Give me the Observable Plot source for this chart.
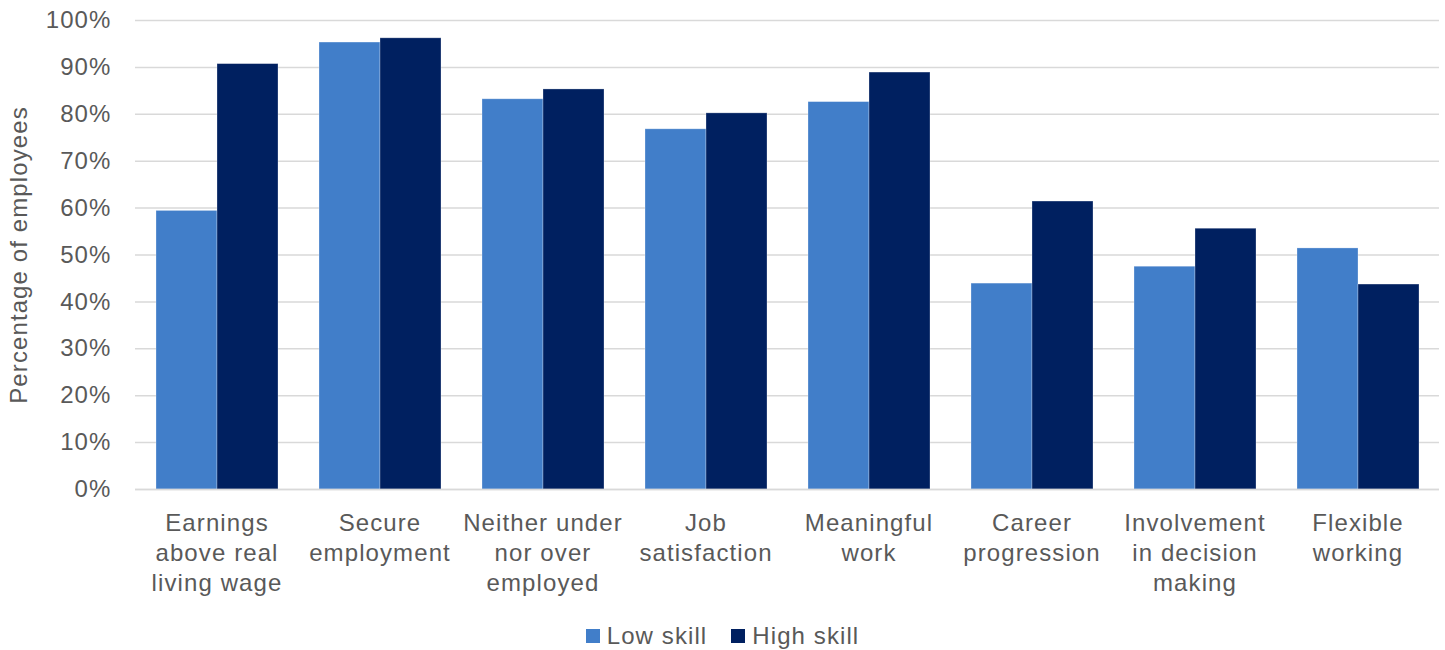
<!DOCTYPE html>
<html>
<head>
<meta charset="utf-8">
<script src="https://cdn.jsdelivr.net/npm/d3@7"></script>
<script src="https://cdn.jsdelivr.net/npm/@observablehq/plot@0.6"></script>
<style>
  html, body { margin: 0; padding: 0; background: #fff; overflow: hidden; }
  #chart { width: 1445px; }
  .legend { display: flex; justify-content: center; align-items: center; gap: 0; height: 40px;
    font-family: "Liberation Sans", Arial, sans-serif; font-size: 24px; letter-spacing: 1.1px; color: #595959; margin-top: 2px; }
  .legend span.sw { display: inline-block; width: 14px; height: 14px; margin-right: 7px; }
  .legend .item { display: flex; align-items: center; margin: 0 12px; }
</style>
</head>
<body>
<div id="chart"></div>
<script>
const categories = [
  "Earnings\nabove real\nliving wage",
  "Secure\nemployment",
  "Neither under\nnor over\nemployed",
  "Job\nsatisfaction",
  "Meaningful\nwork",
  "Career\nprogression",
  "Involvement\nin decision\nmaking",
  "Flexible\nworking"
];
const seriesNames = ["Low skill", "High skill"];
const lowSkill  = [59.4, 95.3, 83.2, 76.8, 82.6, 43.9, 47.5, 51.4];
const highSkill = [90.7, 96.2, 85.3, 80.2, 88.9, 61.4, 55.6, 43.7];
const colors = ["#417EC9", "#002060"];
const yTicks = [0, 10, 20, 30, 40, 50, 60, 70, 80, 90, 100];

const data = [];
categories.forEach((c, i) => {
  data.push({category: c, series: seriesNames[0], value: lowSkill[i]});
  data.push({category: c, series: seriesNames[1], value: highSkill[i]});
});

const chart = Plot.plot({
  width: 1445,
  height: 614,
  marginLeft: 133,
  marginRight: 5,
  marginTop: 20,
  marginBottom: 125,
  style: {fontFamily: "'Liberation Sans', Arial, sans-serif", fontSize: "24px", color: "#595959", letterSpacing: "1.1px", background: "#fff"},
  fx: {domain: categories, padding: 0, label: null},
  x: {domain: seriesNames, paddingInner: 0, paddingOuter: 0.33, axis: null},
  y: {domain: [0, 100], label: null},
  color: {domain: seriesNames, range: colors},
  marks: [
    Plot.gridY(yTicks, {stroke: "#d9d9d9", strokeOpacity: 1, strokeWidth: 1.5}),
    Plot.axisY(yTicks, {tickSize: 0, tickPadding: 24, tickFormat: d => d + "%", fill: "#595959",
      label: "Percentage of employees", labelAnchor: "center", labelArrow: "none", labelOffset: 126}),
    Plot.axisFx({anchor: "bottom", tickSize: 0, tickPadding: 20, lineHeight: 1.25, fill: "#595959", label: null}),
    Plot.barY(data, {fx: "category", x: "series", y: "value", fill: "series", stroke: "#ffffff", strokeOpacity: 0.35, strokeWidth: 0.8}),
    Plot.ruleY([0], {stroke: "#d9d9d9", strokeWidth: 1.5})
  ]
});
document.getElementById("chart").appendChild(chart);

const legend = document.createElement("div");
legend.className = "legend";
seriesNames.forEach((s, i) => {
  const item = document.createElement("div");
  item.className = "item";
  const sw = document.createElement("span");
  sw.className = "sw";
  sw.style.background = colors[i];
  item.appendChild(sw);
  item.appendChild(document.createTextNode(s));
  legend.appendChild(item);
});
document.getElementById("chart").appendChild(legend);
</script>
</body>
</html>
